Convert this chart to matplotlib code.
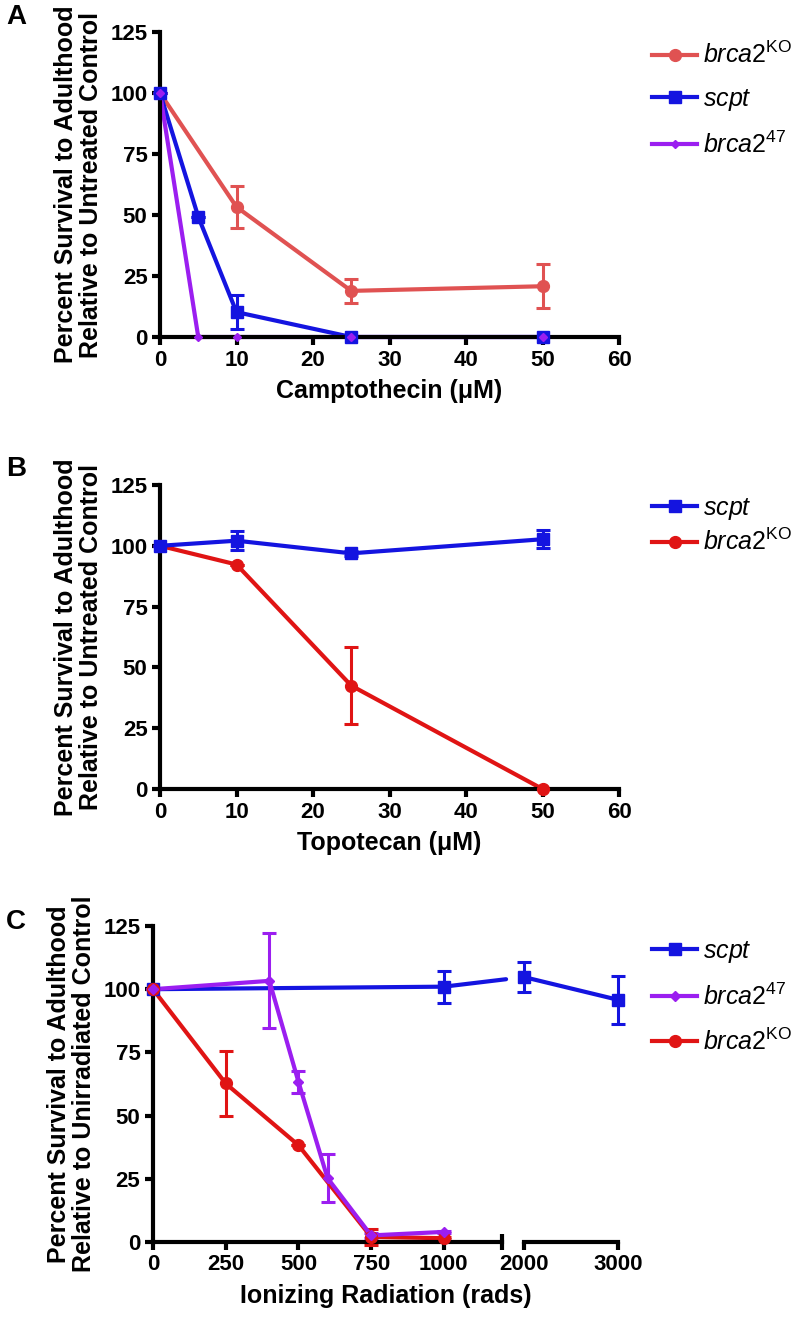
import numpy as np
import matplotlib
matplotlib.use('Agg')
import matplotlib.pyplot as plt
from matplotlib.patches import ConnectionPatch

plt.rcParams['font.family'] = ['Liberation Sans', 'DejaVu Sans']
plt.rcParams['mathtext.fontset'] = 'custom'
plt.rcParams['mathtext.it'] = 'Liberation Sans:italic'
plt.rcParams['mathtext.rm'] = 'Liberation Sans'

# ---- Panel A: camptothecin ----
a_dose = [0, 5, 10, 25, 50]
a_ko_x = [0, 10, 25, 50]
a_ko = [100, 53.3, 18.9, 20.8]
a_ko_err = [0, 8.5, 4.8, 9.0]
a_scpt = [100, 49.3, 10.2, 0, 0]
a_scpt_err = [0, 0, 6.9, 0, 0]
a_b47 = [100, 0, 0, 0, 0]

# ---- Panel B: topotecan ----
b_dose = [0, 10, 25, 50]
b_scpt = [100, 102.1, 96.9, 102.7]
b_scpt_err = [0, 3.8, 1.0, 3.8]
b_ko = [100, 92.3, 42.5, 0]
b_ko_err = [0, 0, 15.7, 0]

# ---- Panel C: ionizing radiation ----
c_scpt_x = [0, 1000, 2000, 3000]
c_scpt = [100, 101.0, 104.8, 95.8]
c_scpt_err = [0, 6.3, 6.1, 9.4]
c_b47_x = [0, 400, 500, 600, 750, 1000]
c_b47 = [100, 103.3, 63.4, 25.3, 2.6, 4.0]
c_b47_err = [0, 18.8, 4.4, 9.6, 1.0, 0.5]
c_ko_x = [0, 250, 500, 750, 1000]
c_ko = [100, 62.7, 38.3, 2.0, 1.5]
c_ko_err = [0, 12.8, 0, 3.2, 0.5]

SALMON = '#E05252'
BLUE = '#1414E0'
PURPLE = '#9B1EF0'
RED = '#E01414'

KO = r'$\mathit{brca2}^{\mathrm{KO}}$'
B47 = r'$\mathit{brca2}^{\mathrm{47}}$'
SCPT = r'$\mathit{scpt}$'

W, H = 797, 1320
fig = plt.figure(figsize=(W / 100, H / 100), dpi=100)


def px_axes(l, r, t, b):
    return fig.add_axes([l / W, 1 - b / H, (r - l) / W, (b - t) / H])


def style(ax, left=True):
    for s in ['top', 'right']:
        ax.spines[s].set_visible(False)
    ax.spines['bottom'].set_linewidth(3)
    ax.spines['left'].set_linewidth(3)
    ax.spines['left'].set_visible(left)
    ax.tick_params(width=3, length=6, labelsize=16, pad=3)
    ax.set_ylim(0, 125)
    ax.set_yticks([0, 25, 50, 75, 100, 125])
    if not left:
        ax.set_yticks([])
    for lab in ax.get_xticklabels() + ax.get_yticklabels():
        lab.set_fontweight('bold')


def series(ax, x, y, err, color, marker, ms, label=None, z=0):
    # line + error bars sit under the axis spines, markers on top
    ax.errorbar(x, y, yerr=err, color=color, lw=3, capsize=5, capthick=2.2,
                elinewidth=2.2, zorder=2 + z, clip_on=False)
    ax.plot(x, y, color=color, ls='none', marker=marker, ms=ms,
            clip_on=False, zorder=4 + z)
    handle, = ax.plot([], [], color=color, lw=3, marker=marker, ms=ms, label=label)
    return handle


ylab_u = 'Percent Survival to Adulthood\nRelative to Untreated Control'
ylab_i = 'Percent Survival to Adulthood\nRelative to Unirradiated Control'
LAB = dict(fontsize=18, fontweight='bold')

# Panel A
axA = px_axes(160, 619, 32, 337)
hA = [series(axA, a_ko_x, a_ko, a_ko_err, SALMON, 'o', 8.5, KO, 0.1),
      series(axA, a_dose, a_scpt, a_scpt_err, BLUE, 's', 8.5, SCPT, 0.2),
      series(axA, a_dose, a_b47, None, PURPLE, 'D', 4.5, B47, 0.3)]
axA.set_xlim(0, 60)
axA.set_xticks([0, 10, 20, 30, 40, 50, 60])
style(axA)
axA.set_xlabel('Camptothecin (\u03bcM)', labelpad=6, **LAB)
axA.set_ylabel(ylab_u, labelpad=5, linespacing=1.1, **LAB)

# Panel B
axB = px_axes(160, 619, 485, 789)
hB = [series(axB, b_dose, b_scpt, b_scpt_err, BLUE, 's', 8.5, SCPT, 0.2),
      series(axB, b_dose, b_ko, b_ko_err, RED, 'o', 8.5, KO, 0.1)]
axB.set_xlim(0, 60)
axB.set_xticks([0, 10, 20, 30, 40, 50, 60])
style(axB)
axB.set_xlabel('Topotecan (\u03bcM)', labelpad=6, **LAB)
axB.set_ylabel(ylab_u, labelpad=5, linespacing=1.1, **LAB)

# Panel C (broken x axis)
axC1 = px_axes(153, 502, 926, 1242)
axC2 = px_axes(524, 618, 926, 1242)
sx = np.array(c_scpt_x)
sy = np.array(c_scpt)
se = np.array(c_scpt_err)
lo = sx <= 1200
hi = sx >= 2000
hC = [series(axC1, sx[lo], sy[lo], se[lo], BLUE, 's', 8.5, SCPT, 0.0),
      series(axC1, c_b47_x, c_b47, c_b47_err, PURPLE, 'D', 5.5, B47, 0.2),
      series(axC1, c_ko_x, c_ko, c_ko_err, RED, 'o', 8.5, KO, 0.1)]
series(axC2, sx[hi], sy[hi], se[hi], BLUE, 's', 8.5)
axC1.set_xlim(0, 1200)
axC1.set_xticks([0, 250, 500, 750, 1000])
axC1.set_xticks([1200], minor=True)
axC2.set_xlim(2000, 3000)
axC2.set_xticks([2000, 3000])
axC2.set_xticks([2000], minor=True)
style(axC1)
style(axC2, left=False)
for ax in (axC1, axC2):
    ax.tick_params(axis='x', which='minor', direction='inout', length=11, width=3)
axC1.set_ylabel(ylab_i, labelpad=5, linespacing=1.1, **LAB)

# connector between the two parts of the scpt line
i1 = np.where(lo)[0][-1]
i2 = np.where(hi)[0][0]
con = ConnectionPatch(xyA=(sx[i1], sy[i1]), coordsA=axC1.transData,
                      xyB=(sx[i2], sy[i2]), coordsB=axC2.transData,
                      color=BLUE, lw=3, shrinkA=0, shrinkB=13, zorder=2)
fig.add_artist(con)

fig.text((153 + 618) / 2 / W, 1 - 1296 / H, 'Ionizing Radiation (rads)',
         ha='center', va='center', **LAB)

# legends
for handles, top, sp in [(hA, 42, 0.74), (hB, 496, 0.28), (hC, 939, 0.74)]:
    fig.legend(handles=handles, loc='upper left',
               bbox_to_anchor=(652 / W, 1 - top / H), frameon=False, fontsize=18,
               handlelength=1.8, handletextpad=0.25, labelspacing=sp,
               borderaxespad=0, borderpad=0)

# panel letters
for letter, y in [('A', 17), ('B', 469), ('C', 922)]:
    fig.text(6 / W, 1 - y / H, letter, fontsize=20, fontweight='bold',
             ha='left', va='center')

fig.savefig('out.png', dpi=100)
